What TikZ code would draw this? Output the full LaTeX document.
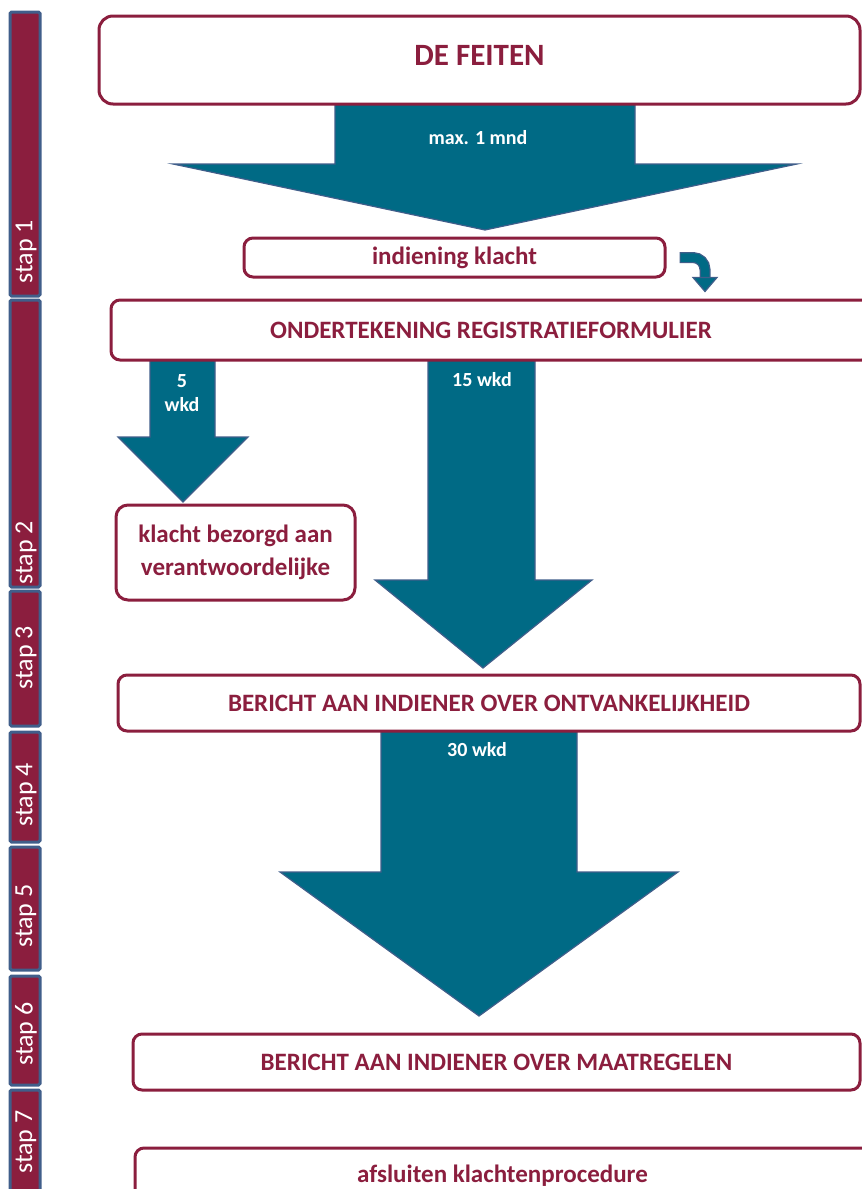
\documentclass[tikz,border=0pt]{standalone}
\usepackage{fontspec}
\setmainfont{Carlito}
\usetikzlibrary{calc}
\definecolor{wine}{RGB}{139,30,62}
\definecolor{petrol}{RGB}{0,106,133}
\definecolor{slate}{RGB}{64,94,138}

\tikzset{
  box/.style={draw=wine, line width=3pt, rounded corners=9pt, fill=white,
    text=wine, align=center, inner sep=0pt,
    font=\bfseries\fontsize{25}{33}\selectfont},
  stepbar/.style={draw=slate, line width=3pt, fill=wine, rounded corners=1.5pt,
    minimum width=30pt, inner sep=0pt},
  steplabel/.style={text=white, rotate=90, inner sep=0pt,
    font=\fontsize{26}{26}\selectfont},
  blockarrow/.style={fill=petrol, draw=slate, line width=1.2pt, line join=miter},
  arrowlabel/.style={text=white, align=center, inner sep=0pt,
    font=\bfseries\fontsize{20}{24}\selectfont},
}

\begin{document}
\begin{tikzpicture}[x=1pt, y=-1pt]
\useasboundingbox (0,0) rectangle (862,1189);
\clip (0,0) rectangle (862,1189);

% step bars on the left
\node[stepbar, minimum height=284pt] (bar1) at (25,154) {};
\node[stepbar, minimum height=287pt] (bar2) at (25,443.5) {};
\node[stepbar, minimum height=135pt] (bar3) at (25,658.5) {};
\node[stepbar, minimum height=110pt] (bar4) at (25,787) {};
\node[stepbar, minimum height=123pt] (bar5) at (25,908.5) {};
\node[stepbar, minimum height=109pt] (bar6) at (25,1030.5) {};
\node[stepbar, minimum height=110pt] (bar7) at (25,1145) {};
\node[steplabel] (lab1) at (26,252) {stap 1};
\node[steplabel] (lab2) at (26,553) {stap 2};
\node[steplabel] (lab3) at (26,658) {stap 3};
\node[steplabel] (lab4) at (26,795) {stap 4};
\node[steplabel] (lab5) at (26,916) {stap 5};
\node[steplabel] (lab6) at (26,1034) {stap 6};
\node[steplabel] (lab7) at (26,1142) {stap 7};

% block arrows (drawn first, the boxes sit on top of their ends)
\draw[blockarrow] (335,100) -- (335,164) -- (173,164) -- (485,230)
  -- (797,164) -- (635,164) -- (635,100) -- cycle;
\draw[blockarrow] (150,356) -- (150,437) -- (118,437) -- (183,502)
  -- (248,437) -- (215,437) -- (215,356) -- cycle;
\draw[blockarrow] (428,356) -- (428,580) -- (375,580) -- (483,668)
  -- (592,580) -- (535,580) -- (535,356) -- cycle;
\draw[blockarrow] (381,727) -- (381,872) -- (280,872) -- (479,1016)
  -- (678,872) -- (577,872) -- (577,727) -- cycle;

% boxes
\node[box, rounded corners=14pt, minimum width=761pt, minimum height=88pt,
  font=\bfseries\fontsize{31}{31}\selectfont] (feiten) at (479.5,60) {\raisebox{9pt}{DE FEITEN}};
\node[box, minimum width=421pt, minimum height=39pt] (indiening) at (454.5,257.5) {indiening klacht};
\node[box, minimum width=760pt, minimum height=60pt] (onder) at (491,330) {ONDERTEKENING REGISTRATIEFORMULIER};
\node[box, rounded corners=12pt, minimum width=239pt, minimum height=95pt] (bezorgd) at (235.5,552.5) {klacht bezorgd aan\\verantwoordelijke};
\node[box, minimum width=742pt, minimum height=56pt] (ontv) at (489,703) {BERICHT AAN INDIENER OVER ONTVANKELIJKHEID};
\node[box, minimum width=727pt, minimum height=56pt] (maatreg) at (496.5,1062) {BERICHT AAN INDIENER OVER MAATREGELEN};
\node[box, minimum width=735pt, minimum height=56pt] (afsluiten) at (502.5,1176) {afsluiten klachtenprocedure};

% labels on the arrows
\node[arrowlabel] (lmax) at (478,138) {max. 1 mnd};
\node[arrowlabel] (l5) at (182,393) {5\\wkd};
\node[arrowlabel] (l15) at (482,380) {15 wkd};
\node[arrowlabel] (l30) at (477,750) {30 wkd};

% small bent arrow from "indiening klacht" down to the registration form
\coordinate (bendA) at ($(indiening.east)+(13,0)$);
\coordinate (bendC) at ($(onder.north)+(214,-20)$);
\coordinate (bendB) at (bendC |- bendA);
\draw[slate, line width=11pt, rounded corners=12pt] (bendA) -- (bendB) -- (bendC);
\draw[petrol, line width=8.5pt, rounded corners=12pt] ($(bendA)+(1.2,0)$) -- (bendB) -- ($(bendC)+(0,1)$);
\draw[blockarrow] ($(bendC)+(-12,-1)$) -- ($(bendC)+(12,-1)$) -- ($(bendC)+(0,13)$) -- cycle;
\end{tikzpicture}
\end{document}
